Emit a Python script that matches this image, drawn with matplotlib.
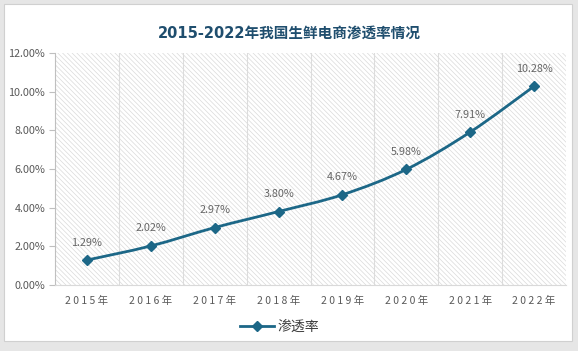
import matplotlib.pyplot as plt
from matplotlib.patches import Rectangle, PathPatch
from matplotlib.path import Path
from matplotlib.ticker import FuncFormatter

plt.rcParams['font.family'] = ['Noto Sans CJK SC', 'DejaVu Sans']
plt.rcParams['hatch.linewidth'] = 0.5
plt.rcParams['hatch.color'] = '#dadada'

years = ['2015年', '2016年', '2017年', '2018年', '2019年', '2020年', '2021年', '2022年']
rate = [1.29, 2.02, 2.97, 3.80, 4.67, 5.98, 7.91, 10.28]
series_name = '渗透率'
title = '2015-2022年我国生鲜电商渗透率情况'

line_color = '#1c6787'
text_gray = '#595959'

fig = plt.figure(figsize=(5.78, 3.51), dpi=100, facecolor='#e6e6e6')
# white card with a soft grey edge
fig.patches.append(Rectangle((4 / 578, 10 / 351), 568 / 578, 337 / 351,
                             transform=fig.transFigure, facecolor='white',
                             edgecolor='#d0d0d0', lw=0.8, zorder=-5))

ax = fig.add_axes([55 / 578, 66 / 351, 511 / 578, 232 / 351])
ax.set_facecolor('none')
x = list(range(len(years)))

ax.add_patch(Rectangle((-0.5, 0), 8, 12, facecolor='white', hatch='\\\\\\\\\\\\\\',
                       edgecolor='#dadada', lw=0, zorder=0))
for gx in [i + 0.5 for i in range(7)]:
    ax.axvline(gx, color='#dcdcdc', lw=0.8, zorder=1)

# smoothed line (like Excel's smooth line), catmull-rom -> bezier
pts = list(zip(x, rate))
verts = [pts[0]]
codes = [Path.MOVETO]
for i in range(len(pts) - 1):
    p0 = pts[i - 1] if i > 0 else pts[i]
    p1, p2 = pts[i], pts[i + 1]
    p3 = pts[i + 2] if i + 2 < len(pts) else pts[i + 1]
    c1 = (p1[0] + (p2[0] - p0[0]) / 6, p1[1] + (p2[1] - p0[1]) / 6)
    c2 = (p2[0] - (p3[0] - p1[0]) / 6, p2[1] - (p3[1] - p1[1]) / 6)
    verts += [c1, c2, p2]
    codes += [Path.CURVE4] * 3
ax.add_patch(PathPatch(Path(verts, codes), facecolor='none', edgecolor=line_color,
                       lw=2, zorder=3))
ax.plot(x, rate, color=line_color, lw=0, marker='D', markersize=5.5, zorder=4)
# legend proxy
ax.plot([], [], color=line_color, lw=2, marker='D', markersize=5.5, label=series_name)

for xi, v in zip(x, rate):
    ax.annotate(f'{v:.2f}%', (xi, v), xytext=(0, 9), textcoords='offset points',
                ha='center', va='bottom', fontsize=7.8, color='#666666')

ax.set_xlim(-0.5, 7.5)
ax.set_ylim(0, 12)
ax.set_yticks([0, 2, 4, 6, 8, 10, 12])
ax.yaxis.set_major_formatter(FuncFormatter(lambda v, p: f'{v:.2f}%'))
ax.set_xticks(x)
ax.set_xticklabels([' '.join(y[:4]) + ' 年' for y in years])
ax.tick_params(axis='x', length=0, labelsize=7.5, labelcolor=text_gray, pad=8)
ax.tick_params(axis='y', length=4, color='#bfbfbf', labelsize=7.8,
               labelcolor=text_gray, pad=3)
for s in ['top', 'right']:
    ax.spines[s].set_visible(False)
ax.spines['left'].set_color('#bfbfbf')
ax.spines['bottom'].set_color('#d9d9d9')

fig.text(0.5, 0.905, title, ha='center', va='center', fontsize=10.5,
         fontweight='bold', color='#1f4e6e', family=['DejaVu Sans', 'Noto Sans CJK SC'])

ax.legend(loc='upper center', bbox_to_anchor=(0.44, -0.095), frameon=False,
          fontsize=10, handlelength=2.4, handletextpad=0.3, labelcolor='#404040')

fig.savefig('out.png', dpi=100, facecolor=fig.get_facecolor())
